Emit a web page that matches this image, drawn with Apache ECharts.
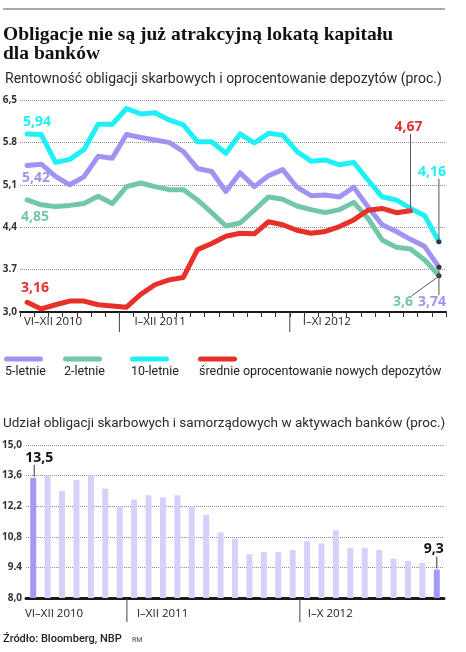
<!DOCTYPE html>
<html>
<head>
<meta charset="utf-8">
<script src="https://cdn.jsdelivr.net/npm/echarts@6/dist/echarts.min.js"></script>
<style>
html, body { margin: 0; padding: 0; background: #fff; }
#chart { width: 466px; height: 652px; }
</style>
</head>
<body>
<div id="chart"></div>
<script>
// miesiące
var roman = ['I', 'II', 'III', 'IV', 'V', 'VI', 'VII', 'VIII', 'IX', 'X', 'XI', 'XII'];
function months(list, year) { return list.map(function (m) { return m + ' ' + year; }); }

var topMonths = months(roman.slice(5), 2010).concat(months(roman, 2011), months(roman.slice(0, 11), 2012));
var topPeriods = ['VI–XII 2010', 'I–XII 2011', 'I–XI 2012'];
var topPeriodLength = [7, 12, 11];
var topTicks = ['3,0', '3.7', '4,4', '5,1', '5.8', '6,5'];

// rentowność (proc.)
var fiveYear = [5.42, 5.44, 5.24, 5.10, 5.23, 5.57, 5.54, 5.93, 5.88, 5.84, 5.80, 5.65, 5.37, 5.32, 4.99,
                5.30, 5.07, 5.25, 5.35, 5.06, 4.92, 4.93, 4.90, 5.06, 4.74, 4.44, 4.33, 4.20, 4.08, 3.74];
var twoYear = [4.85, 4.77, 4.74, 4.76, 4.79, 4.91, 4.79, 5.07, 5.13, 5.07, 5.02, 5.02, 4.85, 4.64, 4.42,
               4.47, 4.68, 4.90, 4.86, 4.75, 4.69, 4.64, 4.69, 4.81, 4.55, 4.19, 4.07, 4.04, 3.86, 3.6];
var tenYear = [5.94, 5.93, 5.47, 5.52, 5.68, 6.10, 6.10, 6.36, 6.27, 6.29, 6.17, 6.09, 5.81, 5.81, 5.62,
               5.94, 5.79, 5.95, 5.92, 5.65, 5.49, 5.51, 5.43, 5.47, 5.18, 4.90, 4.85, 4.71, 4.59, 4.16];
var deposits = [3.16, 3.05, 3.12, 3.18, 3.18, 3.12, 3.10, 3.08, 3.29, 3.45, 3.53, 3.57, 4.03, 4.13, 4.25,
                4.30, 4.29, 4.49, 4.44, 4.35, 4.30, 4.33, 4.41, 4.52, 4.68, 4.71, 4.64, 4.67];

var barMonths = months(roman.slice(5), 2010).concat(months(roman, 2011), months(roman.slice(0, 10), 2012));
var barPeriods = ['VI–XII 2010', 'I–XII 2011', 'I–X 2012'];
var barPeriodLength = [7, 12, 10];
var barTicks = ['8,0', '9.4', '10,8', '12,2', '13,6', '15,0'];
// udział w aktywach (proc.)
var shares = [13.5, 13.6, 12.9, 13.4, 13.6, 13.0, 12.2, 12.5, 12.7, 12.6, 12.7, 12.2, 11.8, 11.0, 10.7,
              10.0, 10.1, 10.1, 10.2, 10.6, 10.5, 11.1, 10.3, 10.3, 10.2, 9.8, 9.7, 9.6, 9.3];

var topMin = 3.0, topStep = 0.7;
var barMin = 8.0, barStep = 1.4;

var C5 = '#a293f3', C2 = '#72c7a9', C10 = '#1ff0f5', CDEP = '#e8302b';
var barLight = '#d5d1fb', barDark = '#a29af3';
var FONT = 'Open Sans';

function pl(v) { return String(v).replace('.', ','); }
function starts(lengths) {
    var s = [0];
    for (var i = 0; i < lengths.length - 1; i++) s.push(s[i] + lengths[i]);
    return s;
}

function lineSeries(name, values, color, dot) {
    var last = values.length - 1;
    return {
        name: name,
        type: 'line',
        xAxisIndex: 0,
        yAxisIndex: 0,
        symbol: 'circle',
        symbolSize: 0,
        showAllSymbol: true,
        lineStyle: { color: color, width: 5, cap: 'round', join: 'round' },
        itemStyle: { color: color },
        emphasis: { disabled: true },
        data: values.map(function (v, i) {
            if (i === last) return { value: v - topMin, symbolSize: dot, itemStyle: { color: '#2e3a3a' } };
            return v - topMin;
        })
    };
}

var lastBar = shares.length - 1;

var myChart = echarts.init(document.getElementById('chart'));
var option = {
    animation: false,
    backgroundColor: '#fff',
    title: [
        {
            text: 'Obligacje nie są już atrakcyjną lokatą kapitału\ndla banków',
            left: 3, top: 25, padding: 0,
            textStyle: { fontFamily: 'Liberation Serif', fontWeight: 'bold', fontSize: 19.5, lineHeight: 19, color: '#111' }
        },
        {
            text: 'Rentowność obligacji skarbowych i oprocentowanie depozytów (proc.)',
            left: 5, top: 72, padding: 0,
            textStyle: { fontFamily: 'Roboto', fontWeight: 'normal', fontSize: 14, color: '#2a2a2a' }
        },
        {
            text: 'Udział obligacji skarbowych i samorządowych w aktywach banków (proc.)',
            left: 3, top: 417, padding: 0,
            textStyle: { fontFamily: 'Roboto', fontWeight: 'normal', fontSize: 13.5, color: '#2a2a2a' }
        },
        {
            text: 'Źródło: Bloomberg, NBP',
            left: 3, top: 634, padding: 0,
            textStyle: { fontFamily: 'Roboto', fontWeight: 500, fontSize: 11, color: '#222' }
        },
        {
            text: 'RM',
            left: 132, top: 637, padding: 0,
            textStyle: { fontFamily: 'Roboto', fontWeight: 'normal', fontSize: 7, color: '#444' }
        }
    ],
    grid: [
        { left: 20, right: 20, top: 100, height: 212, containLabel: false, outerBoundsMode: 'none' },
        { left: 26, right: 22, top: 445, height: 153, containLabel: false, outerBoundsMode: 'none' }
    ],
    xAxis: [
        {
            type: 'category', gridIndex: 0, data: topMonths, boundaryGap: true,
            axisLine: { lineStyle: { color: '#1a1a1a', width: 2 } },
            axisTick: { show: true, interval: 0, length: 5, lineStyle: { color: '#333', width: 1 } },
            axisLabel: { show: false, interval: 0 },
            splitLine: { show: false }
        },
        {
            type: 'category', gridIndex: 1, data: barMonths, boundaryGap: true,
            axisLine: { lineStyle: { color: '#1a1a1a', width: 3 } },
            axisTick: { show: false },
            axisLabel: { show: false },
            splitLine: { show: false }
        }
    ],
    yAxis: [
        {
            type: 'value', gridIndex: 0, min: 0, max: topStep * 5, interval: topStep,
            axisLine: { show: false }, axisTick: { show: false },
            splitLine: { show: true, lineStyle: { color: '#8a8a8a', type: 'dotted', width: 1 } },
            axisLabel: {
                margin: 3, color: '#333', fontFamily: FONT, fontWeight: 'bold', fontSize: 10,
                formatter: function (v) { return topTicks[Math.round(v / topStep)]; }
            }
        },
        {
            type: 'value', gridIndex: 1, min: 0, max: barStep * 5, interval: barStep,
            axisLine: { show: false }, axisTick: { show: false },
            splitLine: { show: true, lineStyle: { color: '#8a8a8a', type: 'dotted', width: 1 } },
            axisLabel: {
                margin: 4, color: '#333', fontFamily: FONT, fontWeight: 'bold', fontSize: 10,
                formatter: function (v) { return barTicks[Math.round(v / barStep)]; }
            }
        }
    ],
    series: [
        lineSeries('2-letnie', twoYear, C2, 5),
        lineSeries('5-letnie', fiveYear, C5, 5),
        lineSeries('10-letnie', tenYear, C10, 5),
        lineSeries('średnie oprocentowanie nowych depozytów', deposits, CDEP, 0),
        {
            type: 'bar', xAxisIndex: 1, yAxisIndex: 1, barWidth: 6,
            itemStyle: { color: barLight },
            emphasis: { disabled: true },
            data: shares.map(function (v, i) {
                if (i === 0 || i === lastBar) return { value: v - barMin, itemStyle: { color: barDark } };
                return v - barMin;
            })
        }
    ]
};
myChart.setOption(option);

// ---- opisy rysowane po przeliczeniu danych na piksele ----
var topAxes = { xAxisIndex: 0, yAxisIndex: 0 };
var barAxes = { xAxisIndex: 1, yAxisIndex: 1 };
function toPx(axes, i, v) { return myChart.convertToPixel(axes, [i, v]); }

var measure = document.createElement('canvas').getContext('2d');
function textWidth(s, size, weight) {
    measure.font = weight + ' ' + size + 'px "' + FONT + '"';
    return measure.measureText(s).width;
}
// tekst wyśrodkowany w (x, y) albo od lewej krawędzi
function txt(x, y, s, color, size, weight, center) {
    weight = weight || 'normal';
    return {
        type: 'text', x: center ? x - textWidth(s, size, weight) / 2 : x, y: y, z: 10,
        style: {
            text: s, fill: color, fontFamily: FONT, fontSize: size, fontWeight: weight,
            align: 'left', verticalAlign: 'middle'
        }
    };
}
function seg(x1, y1, x2, y2, color, w) {
    return { type: 'line', z: 10, shape: { x1: x1, y1: y1, x2: x2, y2: y2 }, style: { stroke: color, lineWidth: w || 1 } };
}

var g = [seg(3, 9, 445, 9, '#8c8c8c', 1.5)];

// legenda
var legendItems = [
    { name: '5-letnie', color: C5, x: 4 },
    { name: '2-letnie', color: C2, x: 63 },
    { name: '10-letnie', color: C10, x: 130 },
    { name: 'średnie oprocentowanie nowych depozytów', color: CDEP, x: 198 }
];
legendItems.forEach(function (it) {
    g.push({ type: 'rect', shape: { x: it.x, y: 356.5, width: 39, height: 5, r: 2.5 }, style: { fill: it.color } });
    g.push({
        type: 'text', x: it.x + 1, y: 365,
        style: { text: it.name, fontFamily: 'Roboto', fontSize: 12.5, fill: '#222' }
    });
});

// okresy pod osią X: pionowe kreski między latami i podpisy
function periodMarks(axes, lengths, names, pads, labelDy, sepLen) {
    var first = toPx(axes, 0, 0), second = toPx(axes, 1, 0);
    var band = second[0] - first[0];
    var axisY = first[1];
    starts(lengths).forEach(function (st, k) {
        var bx = toPx(axes, st, 0)[0] - band / 2;
        if (k > 0) g.push(seg(bx, axisY, bx, axisY + sepLen, '#444'));
        g.push(txt(bx + pads[k], axisY + labelDy, names[k], '#222', 11.5, 'normal', false));
    });
}
periodMarks(topAxes, topPeriodLength, topPeriods, [4, 15, 13], 10, 20);
periodMarks(barAxes, barPeriodLength, barPeriods, [-1, 10, 8], 16, 24);

// wartości na początku linii
var startNotes = [
    { values: tenYear, color: C10, dx: 10, dy: -12 },
    { values: fiveYear, color: C5, dx: 9, dy: 13 },
    { values: twoYear, color: C2, dx: 8, dy: 17 },
    { values: deposits, color: CDEP, dx: 8, dy: -14 }
];
startNotes.forEach(function (n) {
    var p = toPx(topAxes, 0, n.values[0] - topMin);
    g.push(txt(p[0] + n.dx, p[1] + n.dy, pl(n.values[0]), n.color, 14, 'bold', true));
});

// wartości na końcu linii z odnośnikami
var endNotes = [
    { values: deposits, color: CDEP, dx: -2, dy: -84, line: [0, -3, 0, -77] },
    { values: tenYear, color: C10, dx: -7, dy: -70, line: [0, -3, 0, -63] },
    { values: fiveYear, color: C5, dx: -7, dy: 35, line: [0, 3, 0, 28] },
    { values: twoYear, color: C2, dx: -36, dy: 26, line: [-2, 2, -27, 20] }
];
endNotes.forEach(function (n) {
    var i = n.values.length - 1;
    var p = toPx(topAxes, i, n.values[i] - topMin);
    g.push(seg(p[0] + n.line[0], p[1] + n.line[1], p[0] + n.line[2], p[1] + n.line[3], '#555'));
    g.push(txt(p[0] + n.dx, p[1] + n.dy, pl(n.values[i]), n.color, 14, 'bold', true));
});

// podpisy słupków (pierwszy i ostatni)
var barNotes = [
    { idx: 0, dx: 6, dy: -20, line: [1, -1, 1, -13] },
    { idx: lastBar, dx: -3, dy: -21, line: [0, -1, 0, -13] }
];
barNotes.forEach(function (n) {
    var p = toPx(barAxes, n.idx, shares[n.idx] - barMin);
    g.push(seg(p[0] + n.line[0], p[1] + n.line[1], p[0] + n.line[2], p[1] + n.line[3], '#333'));
    g.push(txt(p[0] + n.dx, p[1] + n.dy, pl(shares[n.idx]), '#111', 14, 'bold', true));
});

myChart.setOption({ graphic: g });
</script>
</body>
</html>
